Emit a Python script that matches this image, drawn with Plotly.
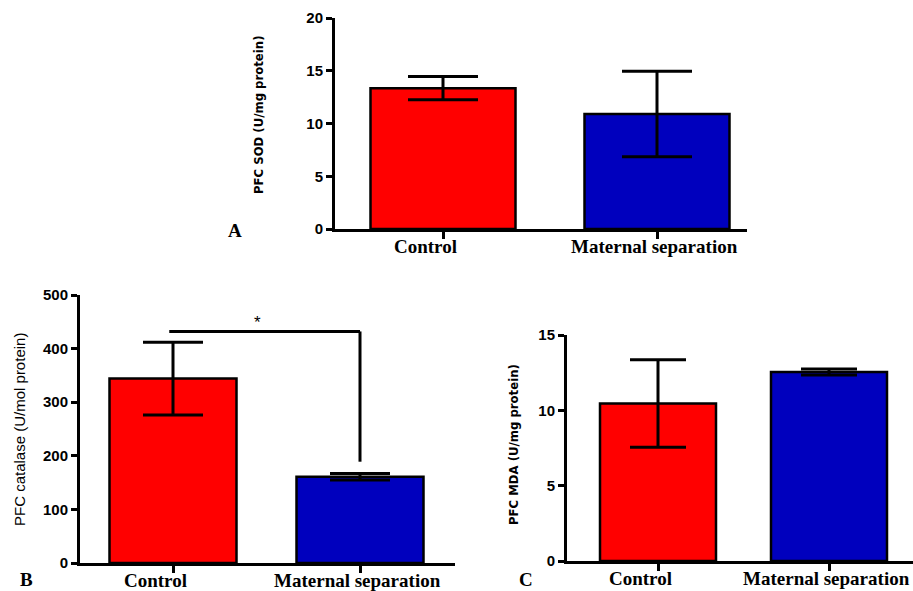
import plotly.graph_objects as go

W, H = 913, 591
OFF = 0  # body margin removed via post_script

categories = ["Control", "Maternal separation"]
bar_colors = ["#FF0000", "#0000BE"]

# Panel A: PFC SOD
sod_mean = [13.35, 10.9]
sod_err = [1.1, 4.05]
# Panel B: PFC catalase
cat_mean = [344, 161]
cat_err = [68, 6]
# Panel C: PFC MDA
mda_mean = [10.45, 12.54]
mda_err = [2.9, 0.2]

sod_ticks = [0, 5, 10, 15, 20]
cat_ticks = [0, 100, 200, 300, 400, 500]
mda_ticks = [0, 5, 10, 15]

# significance bracket (panel B)
sig_y = 432
sig_end_y = 189

fig = go.Figure()

def px_x(p):
    return (p - OFF) / W

def px_y(p):
    return 1 - (p - OFF) / H

panels = [
    (sod_mean, sod_err, "x", "y", 335, 747, 443, 657, 18, 229, [0, 20], sod_ticks, 35, 145),
    (cat_mean, cat_err, "x2", "y2", 80, 455, 173, 360, 295, 563, [0, 500], cat_ticks, 30, 127),
    (mda_mean, mda_err, "x3", "y3", 567, 913, 658, 829, 335, 561, [0, 15], mda_ticks, 28, 116),
]
label_shift = [-18, -3]

serif = "Liberation Serif, Times New Roman, serif"
sans = "Liberation Sans, Arial, sans-serif"

layout_axes = {}
for i, (mean, err, xa, ya, x0, x1, c0, c1, yt, yb, yr, ticks, capw, bw) in enumerate(panels):
    d = c1 - c0
    bar_w = bw / d
    fig.add_trace(go.Bar(
        x=categories, y=mean, xaxis=xa, yaxis=ya,
        width=[bar_w, bar_w],
        marker=dict(color=bar_colors, line=dict(color="black", width=2.5)),
        error_y=dict(type="data", array=err, visible=True, color="black",
                     thickness=3, width=capw),
        showlegend=False, hoverinfo="skip",
    ))
    xname = "xaxis" if i == 0 else f"xaxis{i+1}"
    yname = "yaxis" if i == 0 else f"yaxis{i+1}"
    layout_axes[xname] = dict(
        domain=[px_x(x0), px_x(x1)], anchor=ya,
        range=[(x0 - c0) / d, (x1 - c0) / d],
        type="category", automargin=False,
        showline=True, linecolor="black", linewidth=3,
        ticks="outside", ticklen=7, tickwidth=3, tickcolor="black",
        showticklabels=False,
        showgrid=False, zeroline=False,
        fixedrange=True,
    )
    layout_axes[yname] = dict(
        domain=[px_y(yb), px_y(yt)], anchor=xa,
        range=yr, tickvals=ticks, automargin=False,
        showline=True, linecolor="black", linewidth=3,
        ticks="outside", ticklen=6, tickwidth=3, tickcolor="black",
        showgrid=False, zeroline=False,
        tickfont=dict(family=sans, size=15, color="black", weight="bold"),
        fixedrange=True,
    )
    # category labels
    for cat, sh in zip(categories, label_shift):
        fig.add_annotation(xref=xa, yref="paper", x=cat, y=px_y(yb + 17), text=cat,
                           xshift=sh, xanchor="center", yanchor="middle", showarrow=False,
                           font=dict(family=serif, size=19, color="black", weight="bold"))

fig.update_layout(**layout_axes)

# significance bracket
fig.add_shape(type="line", xref="x2", yref="y2", x0=-0.02, x1=1, y0=sig_y, y1=sig_y,
              line=dict(color="black", width=3))
fig.add_shape(type="line", xref="x2", yref="y2", x0=1, x1=1, y0=sig_y, y1=sig_end_y,
              line=dict(color="black", width=3))
fig.add_annotation(xref="x2", yref="y2", x=0.45, y=sig_y, text="*", showarrow=False,
                   yanchor="bottom", yshift=-3,
                   font=dict(family=sans, size=17, color="black"))

# axis titles
narrow = "Liberation Sans Narrow, DejaVu Sans Condensed, Arial Narrow, sans-serif"
for txt, xp, yp, fam, sz, wt in [
    ("PFC SOD (U/mg protein)", 258, 115, narrow, 13, "bold"),
    ("PFC catalase (U/mol protein)", 19, 430, sans, 15, "normal"),
    ("PFC MDA (U/mg protein)", 513, 445, narrow, 13, "bold"),
]:
    fig.add_annotation(xref="paper", yref="paper", x=px_x(xp), y=px_y(yp), text=txt,
                       xanchor="center", yanchor="middle",
                       textangle=-90, showarrow=False,
                       font=dict(family=fam, size=sz, color="black", weight=wt))

# panel letters
for letter, xp, yp in [("A", 235, 231), ("B", 26, 579), ("C", 526, 579)]:
    fig.add_annotation(xref="paper", yref="paper", x=px_x(xp), y=px_y(yp), text=letter,
                       xanchor="center", yanchor="middle", showarrow=False,
                       font=dict(family=serif, size=19, color="black", weight="bold"))

fig.update_layout(
    template="none",
    width=W, height=H, margin=dict(l=0, r=0, t=0, b=0, pad=0),
    paper_bgcolor="white", plot_bgcolor="white",
    bargap=0,
)

fig.write_html("out.html",
               config={"displayModeBar": False, "staticPlot": True},
               post_script="document.body.style.margin='0';document.body.style.overflow='hidden';")
